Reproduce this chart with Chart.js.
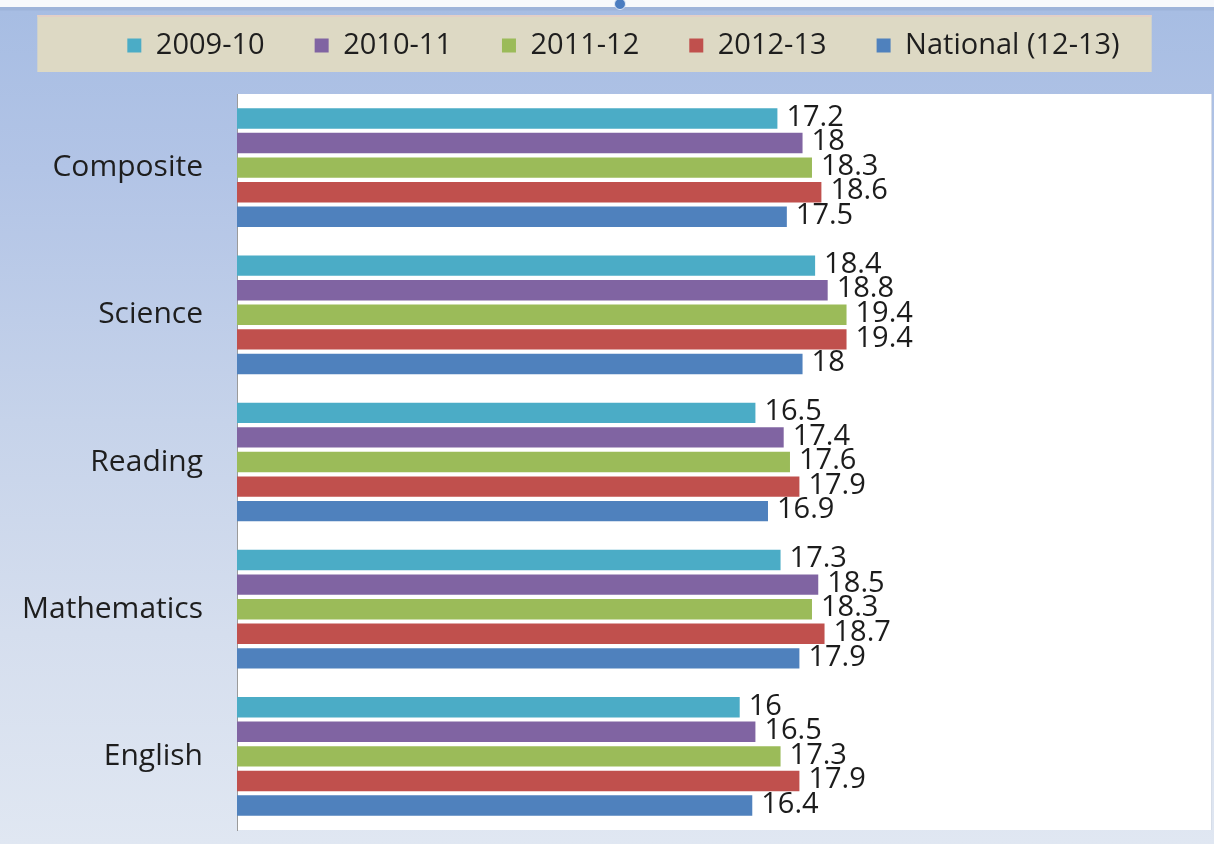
<!DOCTYPE html>
<html>
<head>
<meta charset="utf-8">
<script src="https://cdn.jsdelivr.net/npm/chart.js@4.4.1/dist/chart.umd.min.js"></script>
<style>
  html, body { margin: 0; padding: 0; }
  body {
    width: 1214px; height: 844px; overflow: hidden; position: relative;
    background: linear-gradient(to bottom, #f6f8fb 0px, #f6f8fb 7px, #9db3d9 7px, #9db3d9 10px, #a7bde3 11px, #b2c4e6 20%, #c6d3ea 50%, #d5deee 75%, #e0e7f2 100%);
    font-family: "Open Sans", sans-serif;
  }
  #handle { position: absolute; left: 614px; top: -2px; width: 10px; height: 10px; border-radius: 50%; background: #4a7cc0; border: 1px solid #dfe8f5; }
  #c { position: absolute; left: 0; top: -19px; width: 1214px; height: 863px; }
</style>
</head>
<body>
<canvas id="c" width="1214" height="863"></canvas>
<div id="handle"></div>
<script>
const categories = ["Composite", "Science", "Reading", "Mathematics", "English"];
const seriesNames = ["2009-10", "2010-11", "2011-12", "2012-13", "National (12-13)"];
const s2009_10 = [17.2, 18.4, 16.5, 17.3, 16.0];
const s2010_11 = [18.0, 18.8, 17.4, 18.5, 16.5];
const s2011_12 = [18.3, 19.4, 17.6, 18.3, 17.3];
const s2012_13 = [18.6, 19.4, 17.9, 18.7, 17.9];
const sNational = [17.5, 18.0, 16.9, 17.9, 16.4];
const seriesColors = ["#4bacc6", "#8064a2", "#9bbb59", "#c0504d", "#4f81bd"];
const xMin = 0, xMax = 31;

const seriesValues = [s2009_10, s2010_11, s2011_12, s2012_13, sNational];

const bgPlugin = {
  id: 'bgPlugin',
  beforeInit(chart) {
    const lg = chart.legend;
    if (lg) {
      const origFit = lg.fit;
      lg.fit = function () { origFit.call(this); this.height += 24; };
    }
  },
  afterLayout(chart) {
    const lg = chart.legend;
    if (lg) { lg.left += 13; lg.right += 13; }
  },
  beforeDraw(chart) {
    const ctx = chart.ctx;
    const a = chart.chartArea;
    ctx.save();
    ctx.fillStyle = '#ffffff';
    ctx.fillRect(a.left, a.top, a.right - a.left, a.bottom - a.top);
    ctx.strokeStyle = '#d6dde8';
    ctx.lineWidth = 1;
    ctx.beginPath();
    ctx.moveTo(a.right + 0.5, a.top); ctx.lineTo(a.right + 0.5, a.bottom);
    ctx.stroke();
    const lg = chart.legend;
    if (lg && lg.legendHitBoxes && lg.legendHitBoxes.length) {
      const hb = lg.legendHitBoxes;
      const first = hb[0], last = hb[hb.length - 1];
      const x0 = first.left - 90, x1 = last.left + last.width + 32;
      const y0 = first.top - 16, y1 = first.top + first.height + 12;
      ctx.fillStyle = '#ddd9c4';
      ctx.fillRect(x0, y0, x1 - x0, y1 - y0);
      ctx.fillStyle = '#e3cfc6';
      ctx.fillRect(x0, y0, x1 - x0, 2);
    }
    ctx.restore();
  }
};

const labelPlugin = {
  id: 'labelPlugin',
  afterDatasetsDraw(chart) {
    const ctx = chart.ctx;
    ctx.save();
    ctx.font = '29px "Open Sans", sans-serif';
    ctx.fillStyle = '#1c1c1c';
    ctx.textAlign = 'left';
    ctx.textBaseline = 'middle';
    chart.data.datasets.forEach((ds, i) => {
      const meta = chart.getDatasetMeta(i);
      meta.data.forEach((el, j) => {
        ctx.fillText(String(ds.data[j]), el.x + 9, el.y - 1);
      });
    });
    ctx.restore();
  }
};

new Chart(document.getElementById('c'), {
  type: 'bar',
  data: {
    labels: categories,
    datasets: seriesNames.map((name, i) => ({
      label: name,
      data: seriesValues[i],
      backgroundColor: seriesColors[i],
      borderWidth: 0,
      barPercentage: 0.83,
      categoryPercentage: 0.835
    }))
  },
  options: {
    indexAxis: 'y',
    responsive: false,
    maintainAspectRatio: false,
    devicePixelRatio: 1,
    animation: false,
    layout: { padding: { left: 10, right: 3, top: 0, bottom: 14 } },
    scales: {
      x: { display: false, min: xMin, max: xMax },
      y: {
        grid: { display: false, drawTicks: false },
        border: { display: true, color: '#9a9a9a', width: 1 },
        ticks: {
          padding: 34,
          color: '#1e1e1e',
          font: { family: '"Open Sans", sans-serif', size: 30 }
        },
        afterFit(scale) { scale.width = 227; scale.paddingTop = 0; scale.paddingBottom = 0; }
      }
    },
    plugins: {
      legend: {
        position: 'top',
        labels: {
          boxWidth: 14,
          boxHeight: 14,
          padding: 50,
          color: '#1e1e1e',
          font: { family: '"Open Sans", sans-serif', size: 29 }
        }
      },
      tooltip: { enabled: false }
    }
  },
  plugins: [bgPlugin, labelPlugin]
});
</script>
</body>
</html>
